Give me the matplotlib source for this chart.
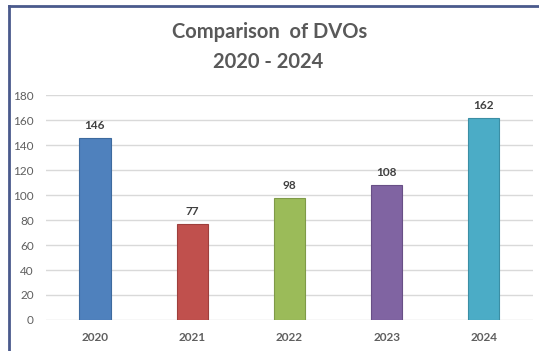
import matplotlib

matplotlib.use("Agg")
import matplotlib.pyplot as plt
from matplotlib.lines import Line2D

years = ["2020", "2021", "2022", "2023", "2024"]
dvos = [146, 77, 98, 108, 162]
bar_colors = ["#4F81BD", "#C0504D", "#9BBB59", "#8064A2", "#4BACC6"]
edge_colors = ["#3d6a9e", "#9e3f3c", "#7f9a48", "#684f86", "#3b8ea4"]
yticks = [0, 20, 40, 60, 80, 100, 120, 140, 160, 180]

plt.rcParams["font.family"] = ["Lato", "DejaVu Sans"]

fig = plt.figure(figsize=(5.39, 3.51), dpi=100)
ax = fig.add_axes([0.086, 0.0884, 0.902, 0.6405])

x = range(len(years))
ax.bar(x, dvos, width=0.32, color=bar_colors, edgecolor=edge_colors,
       linewidth=0.8, zorder=3)
for xi, v in zip(x, dvos):
    ax.annotate(str(v), (xi, v), xytext=(0, 5), textcoords="offset points",
                ha="center", va="bottom", fontsize=8.5, fontweight="bold",
                color="#404040")

ax.set_xlim(-0.5, len(years) - 0.5)
ax.set_ylim(0, 180)
ax.set_yticks(yticks)
ax.set_xticks(list(x))
ax.set_xticklabels(years, fontweight="bold")
ax.yaxis.grid(True, color="#d9d9d9", linewidth=1.0, zorder=0)
ax.set_axisbelow(True)
for s in ax.spines.values():
    s.set_visible(False)
ax.tick_params(axis="both", length=0, labelsize=8.5, labelcolor="#5f5f5f")
ax.tick_params(axis="y", pad=9)
ax.tick_params(axis="x", pad=9)

fig.text(0.500, 0.909, "Comparison  of DVOs", ha="center", va="center",
         fontsize=14.5, fontweight="bold", color="#595959")
fig.text(0.497, 0.823, "2020 - 2024", ha="center", va="center",
         fontsize=14.5, fontweight="bold", color="#595959")

# frame on the top and left edges
fig.add_artist(Line2D([8.5 / 539, 8.5 / 539], [0, 1 - 6 / 351],
                      transform=fig.transFigure, color="#4a5a8c", linewidth=2))
fig.add_artist(Line2D([8.5 / 539, 1], [1 - 6 / 351, 1 - 6 / 351],
                      transform=fig.transFigure, color="#4a5a8c", linewidth=2))

fig.savefig("out.png", dpi=100)
